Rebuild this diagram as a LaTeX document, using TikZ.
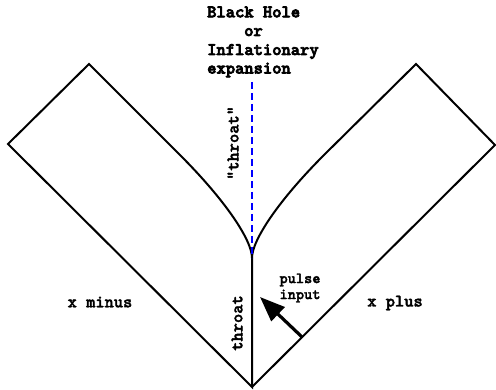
\documentclass[tikz,border=0pt]{standalone}
\usepackage{fontspec}
\newfontfamily\heavytt[FakeBold=4]{lmmonolt10-bold.otf}
\newfontfamily\boldtt[FakeBold=2]{lmmonolt10-bold.otf}
\usetikzlibrary{arrows.meta}
\tikzset{
  outline/.style={line width=2pt, line join=miter},
  ttl/.style={inner sep=0pt, anchor=base west, font=\heavytt\fontsize{17.7}{18}\selectfont},
  lbl/.style={inner sep=0pt, font=\boldtt\fontsize{17.6}{18}\selectfont},
  small/.style={inner sep=0pt, align=center, font=\boldtt\fontsize{15.6}{16}\selectfont},
  axis/.style={blue, line width=2pt, dash pattern=on 7pt off 4pt},
  pulse/.style={line width=3.2pt, -{Triangle[length=25pt,width=19pt]}}
}
\begin{document}
\begin{tikzpicture}[x=1pt,y=-1pt]
\useasboundingbox (0,0) rectangle (496,390);
% corners
\coordinate (B) at (252,387);
\coordinate (L) at (8,144);
\coordinate (LT) at (89,64);
\coordinate (RT) at (416,64);
\coordinate (R) at (495,145);
\coordinate (C) at (252,258);
\coordinate (LS) at (180,155);
\coordinate (RS) at (324,155);
\coordinate (top) at (252,82);
% outline
\draw[outline] (C) -- (B) -- (L) -- (LT) -- (LS) .. controls (225,200) and (252,240) .. (C);
\draw[outline] (B) -- (R) -- (RT) -- (RS) .. controls (279,200) and (252,240) .. (C);
% dashed axis
\draw[axis] (top) -- (C);
% title
\node[ttl] (t1) at (207,17.3) {Black Hole};
\node[ttl] (t2) at (244,36) {or};
\node[ttl] (t3) at (207,55) {Inflationary};
\node[ttl] (t4) at (207,73.5) {expansion};
% labels
\node[lbl] (xm) at (100,302) {x minus};
\node[lbl] (xp) at (395,303) {x plus};
\node[lbl, rotate=90] (th) at (237,323) {throat};
\node[lbl, rotate=90] (qth) at (233,143) {"throat"};
\node[small] (pi) at (300,288) {pulse\\input};
% pulse arrow
\coordinate (ps) at (302,337);
\coordinate (pt) at (260,297);
\draw[pulse] (ps) -- (pt);
\end{tikzpicture}
\end{document}
